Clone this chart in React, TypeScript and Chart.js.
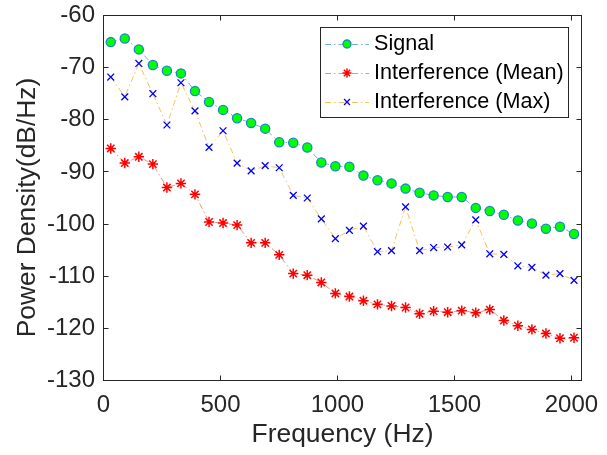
import React, { useEffect, useRef } from 'react';
import { Chart, registerables } from 'chart.js';

Chart.register(...registerables);

const FONT = "'Liberation Sans', Arial, sans-serif";
const TEXT_COLOR = '#262626';

const frequencies = [
  31, 91, 151, 211, 271, 331, 391, 451, 511, 571, 631, 691, 751, 811, 871, 931, 991,
  1051, 1111, 1171, 1231, 1291, 1351, 1411, 1471, 1531, 1591, 1651, 1711, 1771, 1831, 1891, 1951, 2011,
];

const signalValues = [
  -65.1, -64.4, -66.5, -69.5, -70.6, -71.1, -74.5, -76.6, -78.1, -79.7, -80.6, -81.7, -84.3, -84.4, -85.3, -88.2, -88.9,
  -89.0, -90.7, -91.6, -92.2, -93.2, -94.0, -94.5, -94.8, -94.8, -96.9, -97.5, -98.2, -99.3, -99.9, -100.9, -100.5, -101.9,
];

const meanValues = [
  -85.5, -88.3, -87.1, -88.5, -93.0, -92.2, -94.3, -99.6, -99.8, -100.2, -103.6, -103.6, -105.9, -109.5, -109.8, -111.2, -113.3,
  -113.9, -114.7, -115.4, -115.7, -116.0, -117.2, -116.7, -116.9, -116.6, -117.0, -116.4, -118.5, -119.5, -120.2, -121.0, -121.9, -121.8,
];

const maxValues = [
  -71.8, -75.6, -69.2, -75.0, -81.0, -72.9, -78.3, -85.3, -82.1, -88.3, -89.8, -88.8, -89.2, -94.5, -95.0, -99.0, -102.8,
  -101.2, -100.4, -105.3, -105.1, -96.7, -105.1, -104.5, -104.4, -104.0, -99.2, -105.7, -105.8, -108.0, -108.3, -109.8, -109.5, -110.8,
];

const seriesNames = ['Signal', 'Interference (Mean)', 'Interference (Max)'];
const xTitle = 'Frequency (Hz)';
const yTitle = 'Power Density(dB/Hz)';
const xTickValues = [0, 500, 1000, 1500, 2000];
const yTickValues = [-130, -120, -110, -100, -90, -80, -70, -60];
const xMin = 0;
const xMax = 2043;
const yMin = -130;
const yMax = -60;

const DASH = [6, 3, 1.5, 3];

function drawMarker(ctx: CanvasRenderingContext2D, style: string, x: number, y: number, r: number, fill: string, stroke: string, lw: number) {
  ctx.save();
  ctx.setLineDash([]);
  ctx.lineWidth = lw;
  ctx.strokeStyle = stroke;
  ctx.fillStyle = fill;
  ctx.beginPath();
  if (style === 'circle') {
    ctx.arc(x, y, r, 0, Math.PI * 2);
    ctx.fill();
    ctx.stroke();
  } else if (style === 'star') {
    ctx.moveTo(x - r, y); ctx.lineTo(x + r, y);
    ctx.moveTo(x, y - r); ctx.lineTo(x, y + r);
    const d = r * Math.SQRT1_2;
    ctx.moveTo(x - d, y - d); ctx.lineTo(x + d, y + d);
    ctx.moveTo(x - d, y + d); ctx.lineTo(x + d, y - d);
    ctx.stroke();
  } else {
    const d = r * Math.SQRT1_2;
    ctx.moveTo(x - d, y - d); ctx.lineTo(x + d, y + d);
    ctx.moveTo(x - d, y + d); ctx.lineTo(x + d, y - d);
    ctx.stroke();
  }
  ctx.restore();
}

const framePlugin = {
  id: 'matlabFrame',
  afterDraw(chart: any) {
    const { ctx, chartArea: a, scales } = chart;
    const xs = scales.x;
    const ys = scales.y;
    ctx.save();
    ctx.strokeStyle = TEXT_COLOR;
    ctx.lineWidth = 1;
    ctx.setLineDash([]);
    ctx.strokeRect(a.left, a.top, a.right - a.left, a.bottom - a.top);
    ctx.beginPath();
    xs.ticks.forEach((t: any) => {
      const p = Math.round(xs.getPixelForValue(t.value) - 0.5) + 0.5;
      ctx.moveTo(p, a.bottom); ctx.lineTo(p, a.bottom - 5);
      ctx.moveTo(p, a.top); ctx.lineTo(p, a.top + 5);
    });
    ys.ticks.forEach((t: any) => {
      const p = Math.round(ys.getPixelForValue(t.value) - 0.5) + 0.5;
      ctx.moveTo(a.left, p); ctx.lineTo(a.left + 5, p);
      ctx.moveTo(a.right, p); ctx.lineTo(a.right - 5, p);
    });
    ctx.stroke();

    // axis titles
    ctx.fillStyle = TEXT_COLOR;
    ctx.font = `26.4px ${FONT}`;
    ctx.textAlign = 'center';
    ctx.textBaseline = 'middle';
    ctx.fillText(xTitle, (a.left + a.right) / 2, 435);
    ctx.save();
    ctx.translate(27.5, 207.5);
    ctx.rotate(-Math.PI / 2);
    ctx.fillText(yTitle, 0, 0);
    ctx.restore();

    // legend
    const bx = 320.5, by = 27.5, bw = 248, bh = 90;
    ctx.fillStyle = '#ffffff';
    ctx.fillRect(bx, by, bw, bh);
    ctx.strokeStyle = TEXT_COLOR;
    ctx.strokeRect(bx, by, bw, bh);
    ctx.font = `21.6px ${FONT}`;
    ctx.textAlign = 'left';
    ctx.textBaseline = 'middle';
    chart.data.datasets.forEach((ds: any, i: number) => {
      const y = 44 + 29 * i;
      ctx.save();
      ctx.strokeStyle = ds.borderColor;
      ctx.lineWidth = 1;
      ctx.setLineDash(DASH);
      ctx.beginPath();
      ctx.moveTo(325, y + 0.5);
      ctx.lineTo(369, y + 0.5);
      ctx.stroke();
      ctx.restore();
      drawMarker(ctx, ds.pointStyle, 347, y, ds.legendRadius, ds.pointBackgroundColor, ds.pointBorderColor, ds.pointBorderWidth);
      ctx.fillStyle = '#000000';
      ctx.fillText(ds.label, 374, y);
    });
    ctx.restore();
  },
};

function toPoints(values: number[]) {
  return frequencies.map((f, i) => ({ x: f, y: values[i] }));
}

export default function App() {
  const canvasRef = useRef<HTMLCanvasElement | null>(null);

  useEffect(() => {
    document.body.style.margin = '0';
    const canvas = canvasRef.current;
    if (!canvas) return;
    const chart = new Chart(canvas, {
      type: 'line',
      data: {
        datasets: [
          {
            label: seriesNames[0],
            data: toPoints(signalValues),
            borderColor: 'rgba(0,114,189,0.55)',
            borderWidth: 1,
            borderDash: DASH,
            pointStyle: 'circle',
            pointRadius: 4.6,
            pointBackgroundColor: '#00ff00',
            pointBorderColor: '#1c86c9',
            pointBorderWidth: 1.3,
            legendRadius: 4,
            order: 3,
          } as any,
          {
            label: seriesNames[1],
            data: toPoints(meanValues),
            borderColor: 'rgba(217,83,25,0.6)',
            borderWidth: 1,
            borderDash: DASH,
            pointStyle: 'star',
            pointRadius: 5.2,
            pointBackgroundColor: '#ff0000',
            pointBorderColor: '#ff0000',
            pointBorderWidth: 1.5,
            legendRadius: 4.5,
            order: 2,
          } as any,
          {
            label: seriesNames[2],
            data: toPoints(maxValues),
            borderColor: 'rgba(237,177,32,0.75)',
            borderWidth: 1,
            borderDash: DASH,
            pointStyle: 'crossRot',
            pointRadius: 4.8,
            pointBackgroundColor: '#0000ff',
            pointBorderColor: '#0000ff',
            pointBorderWidth: 1.3,
            legendRadius: 4.2,
            order: 1,
          } as any,
        ],
      },
      options: {
        animation: false,
        responsive: false,
        devicePixelRatio: 1,
        events: [],
        layout: { padding: { left: 0, right: 25.5, top: 15.5, bottom: 0 } },
        plugins: {
          legend: { display: false },
          tooltip: { enabled: false },
          title: { display: false },
        },
        elements: { line: { tension: 0 } },
        scales: {
          x: {
            type: 'linear',
            min: xMin,
            max: xMax,
            grid: { display: false, drawTicks: false },
            border: { display: false },
            ticks: {
              padding: 10,
              color: TEXT_COLOR,
              font: { family: FONT, size: 24 },
              maxRotation: 0,
              autoSkip: false,
              callback: (v: any) => String(v),
            },
            afterBuildTicks: (s: any) => {
              s.ticks = xTickValues.map((v) => ({ value: v }));
            },
            afterFit: (s: any) => {
              s.height = 74.5;
              s.paddingLeft = 0;
              s.paddingRight = 0;
            },
          },
          y: {
            type: 'linear',
            min: yMin,
            max: yMax,
            grid: { display: false, drawTicks: false },
            border: { display: false },
            ticks: {
              padding: 8.5,
              color: TEXT_COLOR,
              font: { family: FONT, size: 24 },
              autoSkip: false,
              callback: (v: any) => String(v),
            },
            afterBuildTicks: (s: any) => {
              s.ticks = yTickValues.map((v) => ({ value: v }));
            },
            afterFit: (s: any) => {
              s.width = 103.5;
              s.paddingTop = 0;
              s.paddingBottom = 0;
            },
          },
        },
      } as any,
      plugins: [framePlugin],
    });
    return () => chart.destroy();
  }, []);

  return (
    <div style={{ width: 607, height: 455, background: '#ffffff' }}>
      <canvas ref={canvasRef} width={607} height={455} style={{ display: 'block' }} />
    </div>
  );
}
